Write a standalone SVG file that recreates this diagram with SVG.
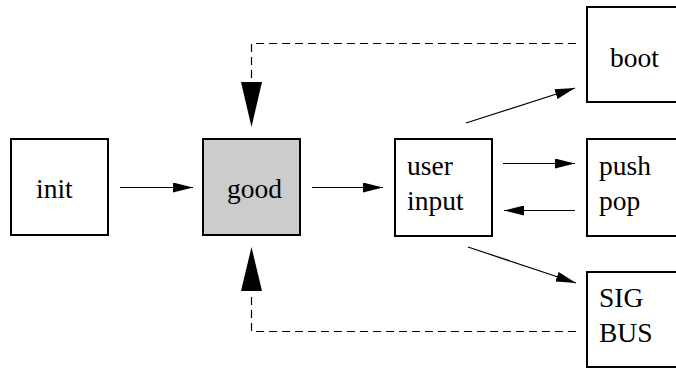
<svg xmlns="http://www.w3.org/2000/svg" width="676" height="369" viewBox="0 0 676 369">
<style>
.box{fill:#fff;stroke:#000;stroke-width:2}
.gray{fill:#cccccc}
.t{font-family:"Liberation Serif","Times New Roman",serif;font-size:27.5px;fill:#000}
.ln{stroke:#000;stroke-width:1.2;fill:none}
.dash{stroke:#000;stroke-width:1.2;fill:none;stroke-dasharray:8,5}
.head{fill:#000;stroke:none}
</style>
<defs>
<marker id="a" viewBox="0 0 20 10" refX="20" refY="5" markerWidth="20" markerHeight="10" markerUnits="userSpaceOnUse" orient="auto">
<path d="M0,0 L20,5 L0,10 Z" fill="#000"/>
</marker>
</defs>
<g id="connectors">
<line class="ln" x1="120" y1="187.5" x2="193" y2="187.5" marker-end="url(#a)"/>
<line class="ln" x1="312" y1="187.5" x2="383" y2="187.5" marker-end="url(#a)"/>
<line class="ln" x1="503" y1="163.5" x2="575" y2="163.5" marker-end="url(#a)"/>
<line class="ln" x1="575" y1="210.5" x2="504" y2="210.5" marker-end="url(#a)"/>
<line class="ln" x1="466" y1="123" x2="575" y2="88" marker-end="url(#a)"/>
<line class="ln" x1="468" y1="247" x2="576" y2="283" marker-end="url(#a)"/>
<path class="dash" d="M576,43.5 L251.5,43.5 L251.5,80"/>
<path class="head" d="M241,82 L262,82 L251.5,127 Z"/>
<path class="dash" d="M576,331.5 L251.5,331.5 L251.5,294"/>
<path class="head" d="M241,291 L262,291 L251.5,247 Z"/>
</g>
<g id="init"><rect class="box" x="11" y="139" width="97" height="96"/><text class="t" x="36" y="198">init</text></g>
<g id="good"><rect class="box gray" x="203" y="139" width="97" height="96"/><text class="t" x="227" y="198">good</text></g>
<g id="user_input"><rect class="box" x="395" y="139" width="97" height="97"/><text class="t" x="407" y="175">user</text><text class="t" x="407" y="210">input</text></g>
<g id="boot"><rect class="box" x="587" y="7" width="100" height="95"/><text class="t" x="610" y="67">boot</text></g>
<g id="push_pop"><rect class="box" x="587" y="139" width="100" height="97"/><text class="t" x="599" y="175">push</text><text class="t" x="599" y="210">pop</text></g>
<g id="sigbus"><rect class="box" x="587" y="272" width="100" height="95"/><text class="t" x="599" y="307">SIG</text><text class="t" x="599" y="342">BUS</text></g>
</svg>
